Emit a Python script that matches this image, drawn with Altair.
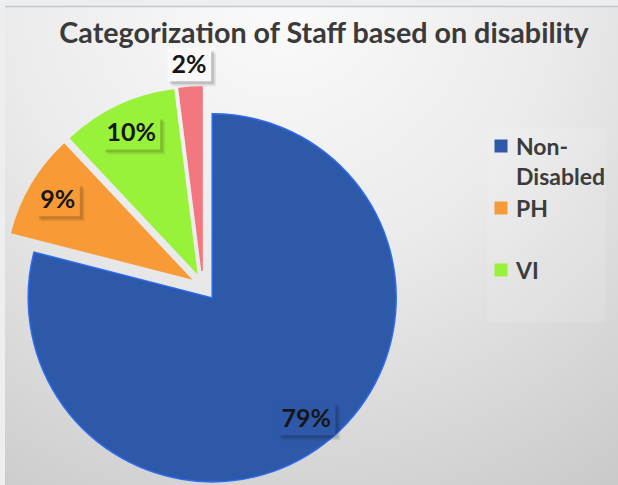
import altair as alt
import pandas as pd

# ---- data ----
categories = ["Non-Disabled", "PH", "VI", "HI"]
values = [79, 9, 10, 2]
labels = ["79%", "9%", "10%", "2%"]
legend_shown = 3  # the 4th entry is clipped out of the legend box in the reference
title_text = "Categorization of Staff based on disability"

# ---- styles ----
fill_colors = ["#2E58A8", "#F89B37", "#99F23A", "#F3777E"]
edge_colors = ["#2B6CF0", "#F89B37", "#99F23A", "#F3777E"]
FONT = "Lato"
W, H = 618, 485
CX, CY, EXPLODE, R = 203, 286, 15, 184

df = pd.DataFrame({"cat": categories, "value": values, "label": labels,
                   "idx": list(range(len(categories)))})

fill_scale = alt.Scale(domain=categories, range=fill_colors)
edge_scale = alt.Scale(domain=categories, range=edge_colors)

base = alt.Chart(df).transform_window(
    cum="sum(value)", sort=[alt.SortField("idx")], frame=[None, 0]
).transform_joinaggregate(total="sum(value)").transform_calculate(
    t0="2*PI*(datum.cum - datum.value)/datum.total",
    t1="2*PI*datum.cum/datum.total",
    mid="(datum.t0 + datum.t1)/2",
    ax=f"{CX} + {EXPLODE}*sin(datum.mid)",
    ay=f"{CY} - {EXPLODE}*cos(datum.mid)",
    inside="datum.value/datum.total >= 0.05",
    lr=f"datum.inside ? {R*0.835} : {R*1.12}",
    lx="datum.ax + datum.lr*sin(datum.mid)",
    ly="datum.ay - datum.lr*cos(datum.mid)",
    bw="16 + 14*length(datum.label)",
    bx0="datum.lx - datum.bw/2",
    bx1="datum.lx + datum.bw/2",
    by0="datum.ly - 17",
    by1="datum.ly + 16",
    sx0="datum.bx0 + 3",
    sx1="datum.bx1 + 3",
    sy0="datum.by0 + 3",
    sy1="datum.by1 + 3",
    tx0="datum.bx0 + 5",
    tx1="datum.bx1 + 5",
    ty0="datum.by0 + 5",
    ty1="datum.by1 + 5",
)

gradient = {
    "gradient": "radial",
    "x1": 0.45, "y1": 0.08, "r1": 0,
    "x2": 0.45, "y2": 0.08, "r2": 1.0,
    "stops": [
        {"offset": 0, "color": "#fbfbfb"},
        {"offset": 0.45, "color": "#ebebeb"},
        {"offset": 1, "color": "#c8c8c8"},
    ],
}

one = alt.Data(values=[{"t": title_text}])

bg = alt.Chart(one).mark_rect(fill=gradient).encode(
    x=alt.value(5), x2=alt.value(W), y=alt.value(7), y2=alt.value(H)
)
top_line = alt.Chart(one).mark_rule(color="#c4c6c8", strokeWidth=1.5).encode(
    x=alt.value(5), x2=alt.value(W), y=alt.value(6.5)
)
legend_box = alt.Chart(one).mark_rect(fill="#ffffff", opacity=0.12).encode(
    x=alt.value(487), x2=alt.value(606), y=alt.value(128), y2=alt.value(322)
)

arcs = base.mark_arc(strokeWidth=1.5).encode(
    theta=alt.Theta("t0:Q", scale=None),
    theta2="t1:Q",
    x=alt.X("ax:Q", scale=None),
    y=alt.Y("ay:Q", scale=None),
    radius=alt.value(R),
    fill=alt.Fill("cat:N", scale=fill_scale, legend=None),
    stroke=alt.Stroke("cat:N", scale=edge_scale, legend=None),
)

shadows_far = base.mark_rect(fill="#000000", opacity=0.08).encode(
    x=alt.X("tx0:Q", scale=None), x2="tx1:Q",
    y=alt.Y("ty0:Q", scale=None), y2="ty1:Q",
)
shadows = base.mark_rect(fill="#000000", opacity=0.14).encode(
    x=alt.X("sx0:Q", scale=None), x2="sx1:Q",
    y=alt.Y("sy0:Q", scale=None), y2="sy1:Q",
)
boxes_in = base.transform_filter("datum.inside").mark_rect().encode(
    x=alt.X("bx0:Q", scale=None), x2="bx1:Q",
    y=alt.Y("by0:Q", scale=None), y2="by1:Q",
    fill=alt.Fill("cat:N", scale=fill_scale, legend=None),
)
boxes_out = base.transform_filter("!datum.inside").mark_rect(fill="#f8f8f8").encode(
    x=alt.X("bx0:Q", scale=None), x2="bx1:Q",
    y=alt.Y("by0:Q", scale=None), y2="by1:Q",
)
label_text = base.mark_text(font=FONT, fontSize=25, fontWeight="bold",
                            color="#161616", align="center", baseline="middle").encode(
    x=alt.X("lx:Q", scale=None), y=alt.Y("ly:Q", scale=None), text="label:N"
)

leg = alt.Chart(df).transform_filter(f"datum.idx < {legend_shown}").transform_calculate(
    gy="146 + 62*datum.idx",
    ty="datum.gy + 9",
    txt="replace(datum.cat, '-', '-|')",
)
leg_sq = leg.mark_square(size=169, filled=True, opacity=1, strokeWidth=0).encode(
    x=alt.value(501), y=alt.Y("gy:Q", scale=None),
    fill=alt.Fill("cat:N", scale=fill_scale, legend=None),
)
leg_txt = leg.mark_text(font=FONT, fontSize=23, fontWeight="bold", color="#3c3c3c",
                        align="left", baseline="alphabetic", lineBreak="|",
                        lineHeight=30).encode(
    x=alt.value(516), y=alt.Y("ty:Q", scale=None), text="txt:N"
)

title = alt.Chart(one).mark_text(font=FONT, fontSize=28.7, fontWeight="bold",
                                 color="#3a3a3a", align="center",
                                 baseline="alphabetic").encode(
    x=alt.value(324), y=alt.value(43), text="t:N"
)

chart = alt.layer(
    bg, top_line, legend_box, arcs, shadows_far, shadows, boxes_in, boxes_out,
    label_text, leg_sq, leg_txt, title
).properties(
    width=W, height=H, padding=0, autosize=alt.AutoSizeParams(type="none"),
    background="#eceef0",
).configure_view(stroke=None)

chart.save("out.html", embed_options={"renderer": "svg", "actions": False})
